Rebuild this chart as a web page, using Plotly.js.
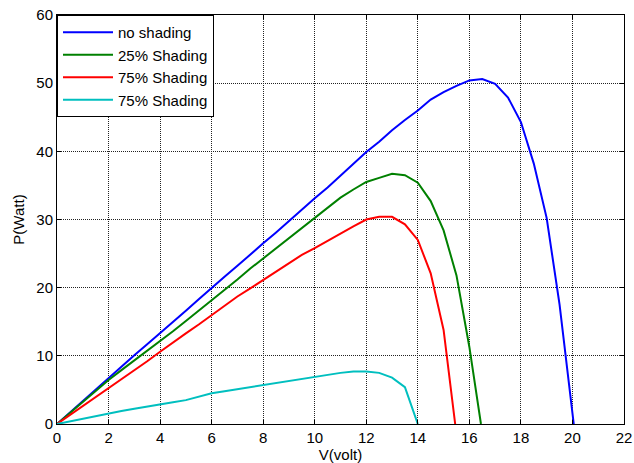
<!DOCTYPE html>
<html><head><meta charset="utf-8">
<script src="https://cdn.plot.ly/plotly-3.0.1.min.js"></script>
<style>html,body{margin:0;padding:0;background:#fff}#c{width:634px;height:463px}</style>
</head><body><div id="c"></div>
<script>
const vNo = [0,0.5,1,1.5,2,2.5,3,3.5,4,4.5,5,5.5,6,6.5,7,7.5,8,8.5,9,9.5,10,10.5,11,11.5,12,12.5,13,13.5,14,14.5,15,15.5,16,16.5,17,17.5,18,18.5,19,19.5,20.05];
const pNo = [0,1.7,3.4,5.0,6.7,8.4,10.1,11.7,13.3,15.0,16.6,18.3,20.0,21.6,23.2,24.9,26.5,28.1,29.8,31.4,33.1,34.7,36.4,38.2,39.9,41.4,43.1,44.6,46.0,47.6,48.7,49.6,50.4,50.6,49.9,47.9,44.3,38.2,30.2,17.5,0];
const v25 = [0,0.5,1,1.5,2,2.5,3,3.5,4,4.5,5,5.5,6,6.5,7,7.5,8,8.5,9,9.5,10,10.5,11,11.5,12,12.5,13,13.5,14,14.5,15,15.5,16,16.45];
const p25 = [0,1.6,3.2,4.8,6.45,7.9,9.3,10.7,12.1,13.6,15.1,16.6,18.2,19.7,21.2,22.8,24.3,25.8,27.3,28.8,30.2,31.7,33.2,34.4,35.5,36.1,36.7,36.5,35.4,32.7,28.4,21.8,11.3,0];
const v75a = [0,0.5,1,1.5,2,2.5,3,3.5,4,4.5,5,5.5,6,6.5,7,7.5,8,8.5,9,9.5,10,10.5,11,11.5,12,12.5,13,13.5,14,14.5,15,15.45];
const p75a = [0,1.3,2.6,3.9,5.2,6.5,7.8,9.2,10.6,12.0,13.3,14.6,16.0,17.4,18.7,19.9,21.1,22.4,23.6,24.8,25.8,26.9,27.9,29.0,30.0,30.4,30.4,29.3,27.0,22.1,13.8,0];
const v75b = [0,0.5,1,1.5,2,2.5,3,3.5,4,4.5,5,5.5,6,6.5,7,7.5,8,8.5,9,9.5,10,10.5,11,11.5,12,12.5,13,13.5,14];
const p75b = [0,0.4,0.8,1.2,1.56,1.9,2.25,2.6,2.9,3.2,3.5,4.0,4.5,4.8,5.1,5.4,5.7,6.0,6.3,6.6,6.95,7.3,7.5,7.7,7.7,7.5,6.8,5.4,0];
const names = ["no shading","25% Shading","75% Shading","75% Shading"];
const xTicks = [0,2,4,6,8,10,12,14,16,18,20,22];
const yTicks = [0,10,20,30,40,50,60];

const colors = ["#0000ff","#008000","#ff0000","#00bfbf"];
const xs = [vNo,v25,v75a,v75b], ys=[pNo,p25,p75a,p75b];
const traces = xs.map((x,i)=>({x:x,y:ys[i],type:'scatter',mode:'lines',name:names[i],
  line:{color:colors[i],width:2}}));
const ax = {showline:true,linecolor:'#000',linewidth:1,mirror:'ticks',ticks:'inside',ticklen:4,tickcolor:'#000',
  showgrid:true,gridcolor:'#222',griddash:'1px,1px',gridwidth:1,zeroline:false,
  tickfont:{family:'Liberation Sans, Arial',size:15,color:'#000'}};
const layout = {
  width:634,height:463,margin:{l:57,r:10,t:15,b:39},paper_bgcolor:'#fff',plot_bgcolor:'#fff',
  font:{family:'Liberation Sans, Arial',size:15,color:'#000'},
  xaxis:Object.assign({},ax,{range:[0,22],tickvals:xTicks,ticktext:xTicks.map(String),
    title:{text:'V(volt)',font:{size:15},standoff:2}}),
  yaxis:Object.assign({},ax,{range:[0,60],tickvals:yTicks,ticktext:yTicks.map(String),
    title:{text:'P(Watt)',font:{size:15},standoff:8}}),
  legend:{x:0,y:1,xanchor:'left',yanchor:'top',bgcolor:'#fff',bordercolor:'#000',borderwidth:1,
    font:{size:15},itemwidth:50,tracegroupgap:0},
  showlegend:true
};
Plotly.newPlot('c',traces,layout,{staticPlot:true,displayModeBar:false});
</script></body></html>
